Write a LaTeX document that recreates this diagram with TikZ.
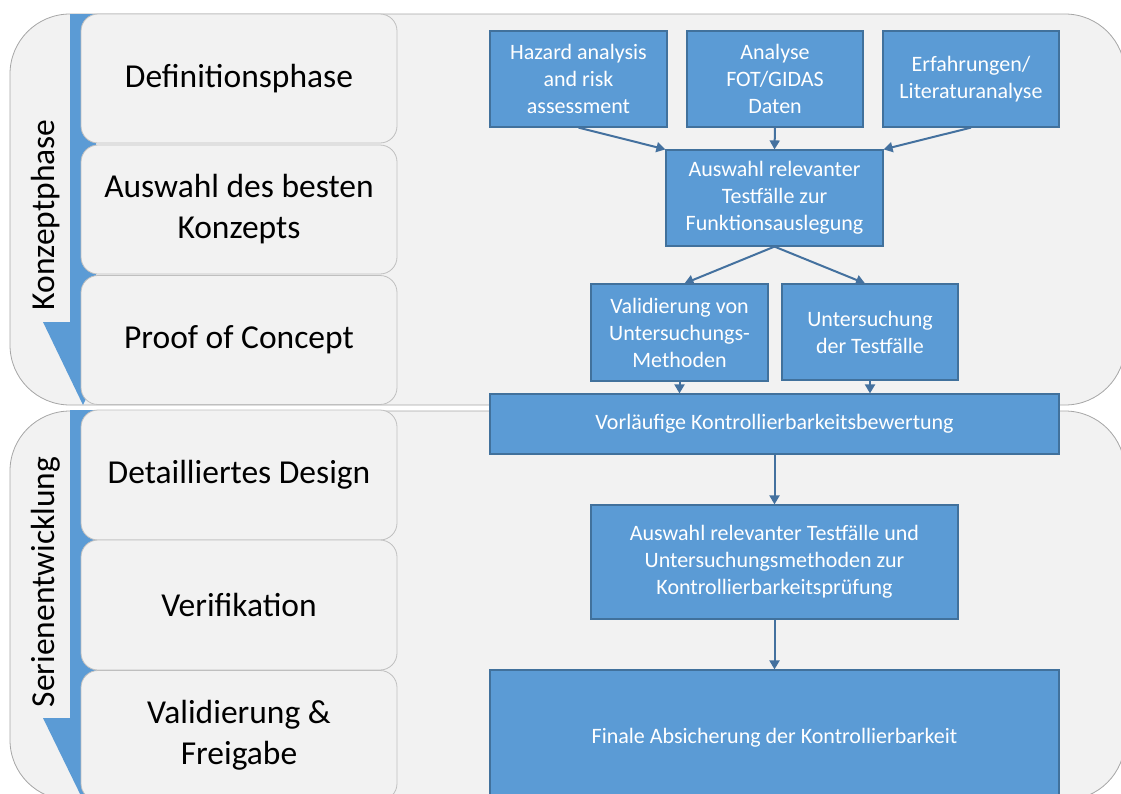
\documentclass[tikz,border=0pt]{standalone}
\usepackage{fontspec}
\setmainfont{Carlito}
\usetikzlibrary{arrows.meta}
\definecolor{bluefill}{HTML}{5B9BD5}
\definecolor{blueline}{HTML}{41719C}
\definecolor{arrowline}{HTML}{44719F}
\definecolor{panel}{HTML}{F2F2F2}
\definecolor{panelline}{HTML}{A6A6A6}
\definecolor{phaseline}{HTML}{BFBFBF}
\begin{document}
\begin{tikzpicture}[x=1pt,y=-1pt,
  container/.style={fill=panel,draw=panelline,line width=0.8pt,rounded corners=60pt},
  band/.style={fill=bluefill},
  phasebox/.style={draw=phaseline,fill=panel,line width=0.8pt,rounded corners=17pt,
    minimum width=316pt,align=center,inner sep=0pt,
    font=\fontsize{33.5}{41}\selectfont},
  grouplabel/.style={rotate=90,inner sep=0pt,font=\fontsize{33.5}{41}\selectfont},
  bluebox/.style={draw=blueline,fill=bluefill,line width=1.2pt,align=center,
    inner sep=0pt,text=white,font=\fontsize{22}{27}\selectfont},
  arr/.style={draw=arrowline,line width=2pt,-{Triangle[length=9pt,width=10pt]}}
]
\useasboundingbox (0,0) rectangle (1121,793);
\clip (0,0) rectangle (1121,793);
% containers
\path[container] (10,14) rectangle (1125,405);
\path[container] (10,411) rectangle (1125,800);
% blue down arrows
\fill[band] (70,14) -- (96,14) -- (96,322) -- (123,322) -- (83,405) -- (43,322) -- (70,322) -- cycle;
\fill[band] (70,410) -- (96,410) -- (96,718) -- (123,718) -- (83,800) -- (43,718) -- (70,718) -- cycle;
% phase boxes
\node[phasebox,minimum height=129pt] (p1) at (239,78.5) {Definitionsphase};
\node[phasebox,minimum height=129pt] (p2) at (239,209.5) {Auswahl des besten\\Konzepts};
\node[phasebox,minimum height=129pt] (p3) at (239,340) {Proof of Concept};
\node[phasebox,minimum height=130pt] (p4) at (239,475) {Detailliertes Design};
\node[phasebox,minimum height=130pt] (p5) at (239,605) {Verifikation};
\node[phasebox,minimum height=130pt] (p6) at (239,735.5) {Validierung \&\\Freigabe};
% group labels
\node[grouplabel] (g1) at (46,215) {Konzeptphase};
\node[grouplabel] (g2) at (46,582) {Serienentwicklung};
% blue boxes
\node[bluebox,minimum width=177pt,minimum height=96pt] (haz) at (578.5,79) {Hazard analysis\\and risk\\assessment};
\node[bluebox,minimum width=176pt,minimum height=96pt] (ana) at (775,79) {Analyse\\FOT/GIDAS\\Daten};
\node[bluebox,minimum width=176pt,minimum height=96pt] (erf) at (971,79) {Erfahrungen/\\Literaturanalyse};
\node[bluebox,minimum width=217pt,minimum height=96pt] (aus1) at (774.5,198) {Auswahl relevanter\\Testfälle zur\\Funktionsauslegung};
\node[bluebox,minimum width=177pt,minimum height=97pt] (val) at (679.5,332.5) {Validierung von\\Untersuchungs-\\Methoden};
\node[bluebox,minimum width=176pt,minimum height=96pt] (unt) at (870,332) {Untersuchung\\der Testfälle};
\node[bluebox,minimum width=569pt,minimum height=60pt] (vor) at (774.5,424) {Vorläufige Kontrollierbarkeitsbewertung};
\node[bluebox,minimum width=367pt,minimum height=114pt] (aus2) at (774.5,562) {Auswahl relevanter Testfälle und\\Untersuchungsmethoden zur\\Kontrollierbarkeitsprüfung};
\node[bluebox,minimum width=569pt,minimum height=135pt] (fin) at (774.5,737.5) {Finale Absicherung der Kontrollierbarkeit};
% connectors
\draw[arr] (haz.south) -- (aus1.north west);
\draw[arr] (ana.south) -- (aus1.north);
\draw[arr] (erf.south) -- (aus1.north east);
\draw[arr] (aus1.south) -- ([xshift=5pt]val.north);
\draw[arr] (aus1.south) -- ([xshift=-5pt]unt.north);
\draw[arr] (val.south) -- (val.south |- vor.north);
\draw[arr] (unt.south) -- (unt.south |- vor.north);
\draw[arr] (vor.south) -- (aus2.north);
\draw[arr] (aus2.south) -- (fin.north);
\end{tikzpicture}
\end{document}
